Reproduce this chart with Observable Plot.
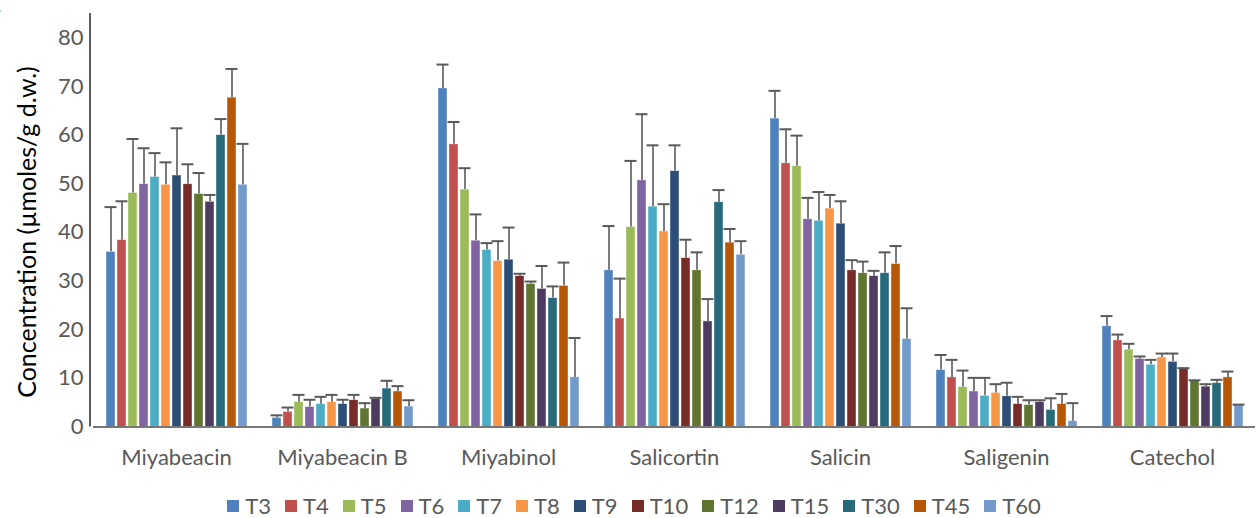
<!DOCTYPE html>
<html>
<head>
<meta charset="utf-8">
<script src="https://cdn.jsdelivr.net/npm/d3@7"></script>
<script src="https://cdn.jsdelivr.net/npm/@observablehq/plot@0.6"></script>
<style>
  html, body { margin: 0; padding: 0; background: #fff; }
  body { width: 1258px; height: 518px; overflow: hidden; font-family: Lato, "Open Sans", sans-serif; }
  #legend { display: flex; justify-content: center; align-items: center; height: 48px; padding-top: 24px; box-sizing: border-box; margin-left: 10px; }
  .item { display: flex; align-items: center; margin: 0 7px; font-size: 22px; line-height: 22px; color: #595959; }
  .sw { width: 12px; height: 12px; margin-right: 6px; }
</style>
</head>
<body>
<div id="chart"></div>
<div id="legend"></div>
<script>
const categories = ["Miyabeacin", "Miyabeacin B", "Miyabinol", "Salicortin", "Salicin", "Saligenin", "Catechol"];
const series = ["T3", "T4", "T5", "T6", "T7", "T8", "T9", "T10", "T12", "T15", "T30", "T45", "T60"];
const colors = ["#4F81BD", "#C0504D", "#9BBB59", "#8064A2", "#4BACC6", "#F79646", "#2C4D75", "#772C2A", "#5F7530", "#4D3B62", "#276A7C", "#B65708", "#729ACA"];
const yTicks = [0, 10, 20, 30, 40, 50, 60, 70, 80];
const yTitle = "Concentration (µmoles/g d.w.)";

const miyabeacin      = [36.0, 38.4, 48.1, 49.9, 51.4, 49.8, 51.7, 49.9, 47.9, 46.3, 60.0, 67.7, 49.8];
const miyabeacinErr   = [9.2, 8.0, 11.1, 7.4, 4.9, 4.6, 9.7, 4.1, 4.3, 1.4, 3.3, 5.9, 8.4];
const miyabeacinB     = [1.9, 3.1, 5.1, 4.1, 4.7, 5.1, 4.7, 5.5, 3.8, 5.8, 7.9, 7.3, 4.2];
const miyabeacinBErr  = [0.5, 0.9, 1.5, 1.5, 1.5, 1.5, 0.9, 1.1, 1.1, 0.2, 1.6, 1.1, 1.3];
const miyabinol       = [69.6, 58.1, 48.8, 38.3, 36.4, 34.1, 34.4, 31.0, 29.4, 28.4, 26.5, 29.0, 10.2];
const miyabinolErr    = [4.9, 4.6, 4.4, 5.4, 1.4, 4.1, 6.6, 0.5, 0.5, 4.7, 2.4, 4.8, 8.1];
const salicortin      = [32.2, 22.3, 41.1, 50.7, 45.3, 40.2, 52.6, 34.7, 32.2, 21.7, 46.2, 37.9, 35.4];
const salicortinErr   = [9.1, 8.2, 13.6, 13.6, 12.6, 5.6, 5.3, 3.8, 3.7, 4.6, 2.5, 2.8, 2.8];
const salicin         = [63.4, 54.2, 53.6, 42.7, 42.4, 44.9, 41.8, 32.2, 31.6, 31.0, 31.6, 33.5, 18.1];
const salicinErr      = [5.7, 7.0, 6.3, 4.4, 5.9, 2.8, 4.6, 2.1, 2.4, 1.1, 4.3, 3.7, 6.3];
const saligenin       = [11.7, 10.2, 8.2, 7.3, 6.4, 7.0, 6.3, 4.7, 4.5, 5.1, 3.5, 4.7, 1.2];
const saligeninErr    = [3.1, 3.6, 3.4, 2.8, 3.7, 1.8, 2.8, 1.5, 1.0, 0.4, 2.4, 2.1, 3.7];
const catechol        = [20.7, 17.8, 15.9, 14.0, 12.8, 14.3, 13.4, 12.0, 9.5, 8.3, 9.0, 10.2, 4.5];
const catecholErr     = [2.1, 1.2, 1.2, 0.5, 1.0, 0.8, 1.7, 0.1, 0.1, 0.5, 0.7, 1.2, 0.1];

const values = [miyabeacin, miyabeacinB, miyabinol, salicortin, salicin, saligenin, catechol];
const errors = [miyabeacinErr, miyabeacinBErr, miyabinolErr, salicortinErr, salicinErr, saligeninErr, catecholErr];

const data = [];
categories.forEach((c, i) => series.forEach((s, j) => {
  data.push({category: c, series: s, value: values[i][j], top: values[i][j] + errors[i][j]});
}));

const W = 1258, H = 470;
const plot = Plot.plot({
  width: W,
  height: H,
  marginLeft: 90,
  marginRight: 0,
  marginTop: 13,
  marginBottom: H - 426.5,
  style: {fontFamily: "Lato, 'Open Sans', sans-serif", fontSize: "22px", color: "#595959", background: "#fff"},
  fx: {domain: categories, padding: 0, axis: "bottom", tickSize: 0, tickPadding: 22, label: null},
  x: {domain: series, paddingInner: 0.2, paddingOuter: 0.92, axis: null},
  y: {domain: [0, 85], ticks: yTicks, tickSize: 0, tickPadding: 10, label: null, tickFormat: d3.format("d")},
  color: {domain: series, range: colors},
  marks: [
    Plot.barY(data, {fx: "category", x: "series", y: "value", fill: "series", stroke: "#fff", strokeWidth: 0.6, strokeOpacity: 0.7}),
    Plot.ruleX(data, {fx: "category", x: "series", y1: "value", y2: "top", stroke: "#5a5a5a", strokeWidth: 1.6}),
    Plot.tickY(data, {fx: "category", x: "series", y: "top", stroke: "#5a5a5a", strokeWidth: 2, insetLeft: -1.5, insetRight: -1.5}),
    Plot.ruleY([0], {stroke: "#777", strokeWidth: 2})
  ]
});
document.getElementById("chart").appendChild(plot);

const svg = d3.select(plot);
const y = plot.scale("y");
svg.append("line")
  .attr("x1", 90).attr("x2", 90)
  .attr("y1", y.range[1]).attr("y2", y.range[0])
  .attr("stroke", "#262626").attr("stroke-width", 1.5);
svg.append("text")
  .attr("transform", `translate(36,232) rotate(-90)`)
  .attr("text-anchor", "middle")
  .attr("fill", "#000")
  .style("font-size", "25px")
  .text(yTitle);
svg.append("text")
  .attr("x", -11).attr("y", 12)
  .attr("fill", "#000")
  .style("font-size", "32px").style("font-weight", "bold")
  .text("A");

const legend = d3.select("#legend");
series.forEach((s, i) => {
  const it = legend.append("div").attr("class", "item");
  it.append("div").attr("class", "sw").style("background", colors[i]);
  it.append("span").text(s);
});
</script>
</body>
</html>
